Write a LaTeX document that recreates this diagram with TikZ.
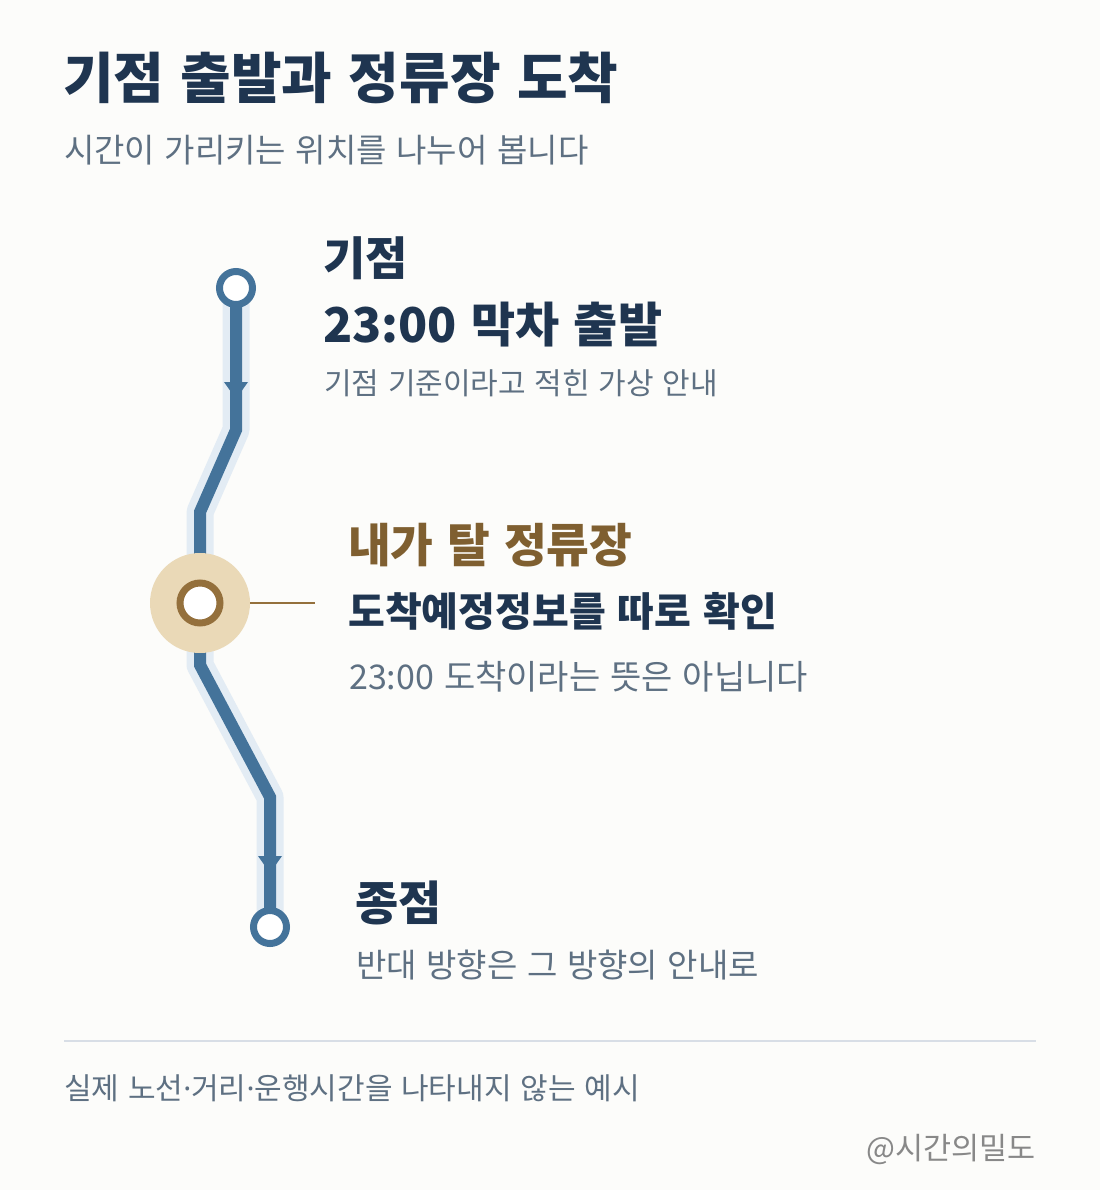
\documentclass[tikz,border=0pt]{standalone}
\usepackage{fontspec}
\setmainfont{Noto Sans CJK KR}[WordSpace=1.3]
\newfontfamily\latinfont{Noto Sans}
\newcommand{\mdot}{{\latinfont ·}}
\definecolor{bg}{HTML}{FCFCFA}
\definecolor{navy}{HTML}{1F3550}
\definecolor{gray1}{HTML}{5E7082}
\definecolor{lineblue}{HTML}{44739A}
\definecolor{halo}{HTML}{E3ECF4}
\definecolor{beige}{HTML}{EAD9B7}
\definecolor{brown}{HTML}{94703C}
\definecolor{browntxt}{HTML}{7F5F30}
\definecolor{sep}{HTML}{D8DEE6}
\definecolor{credit}{HTML}{888888}
\tikzset{
  txt/.style={anchor=west, inner sep=0pt},
  stopring/.style={draw=lineblue, line width=7pt, fill=white, circle, minimum size=33pt, inner sep=0pt},
}
\begin{document}
\begin{tikzpicture}[x=1pt,y=-1pt]
\fill[bg] (0,0) rectangle (1100,1190);
\useasboundingbox (0,0) rectangle (1100,1190);
% texts
\node[txt, font=\bfseries\fontsize{55}{60}\selectfont, text=navy] (title) at (63,78) {기점 출발과 정류장 도착};
\node[txt, font=\fontsize{33}{36}\selectfont, text=gray1] (sub) at (64,150) {시간이 가리키는 위치를 나누어 봅니다};
\node[txt, font=\bfseries\fontsize{46}{50}\selectfont, text=navy] (t1a) at (323,258) {기점};
\node[txt, font=\bfseries\fontsize{48}{52}\selectfont, text=navy] (t1b) at (323,325) {23:00 막차 출발};
\node[txt, font=\fontsize{30}{34}\selectfont, text=gray1] (t1c) at (324,383) {기점 기준이라고 적힌 가상 안내};
\node[txt, font=\bfseries\fontsize{46.5}{50}\selectfont, text=browntxt] (t2a) at (348,545) {내가 탈 정류장};
\node[txt, font=\bfseries\fontsize{40}{44}\selectfont, text=navy] (t2b) at (348,611) {도착예정정보를 따로 확인};
\node[txt, font=\fontsize{34}{38}\selectfont, text=gray1] (t2c) at (349,677) {23:00 도착이라는 뜻은 아닙니다};
\node[txt, font=\bfseries\fontsize{47}{50}\selectfont, text=navy] (t3a) at (355,903) {종점};
\node[txt, font=\fontsize{33}{36}\selectfont, text=gray1] (t3b) at (356,965) {반대 방향은 그 방향의 안내로};
\node[txt, font=\fontsize{30}{34}\selectfont, text=gray1] (note) at (64,1088) {실제 노선\mdot 거리\mdot 운행시간을 나타내지 않는 예시};
\node[anchor=east, inner sep=0pt, font=\fontsize{30.5}{34}\selectfont, text=credit] (cred) at (1036,1150) {@시간의밀도};
% separator
\coordinate (sepL) at (64,1041);
\coordinate (sepR) at (1036,1041);
\draw[sep, line width=2pt] (sepL) -- (sepR);
% route coordinates
\coordinate (s1) at (236,288);
\coordinate (b1) at (236,430);
\coordinate (b2) at (200,512);
\coordinate (s2) at (200,603);
\coordinate (b3) at (200,665);
\coordinate (b4) at (270,797);
\coordinate (s3) at (270,927);
% halo and line
\draw[halo, line width=27pt, line join=round] (s1) -- (b1) -- (b2) -- (s2) -- (b3) -- (b4) -- (s3);
\draw[lineblue, line width=12pt, line join=miter] (s1) -- (b1) -- (b2) -- (s2) -- (b3) -- (b4) -- (s3);
% arrowheads
\fill[lineblue] (224,382) -- (248,382) -- (236,399) -- cycle;
\fill[lineblue] (258,856) -- (282,856) -- (270,873) -- cycle;
% stops
\node[stopring] (n1) at (s1) {};
\node[stopring] (n3) at (s3) {};
\node[circle, fill=beige, minimum size=100pt, inner sep=0pt] (n2) at (s2) {};
\node[circle, draw=brown, line width=7pt, fill=white, minimum size=40pt, inner sep=0pt] (n2r) at (s2) {};
\coordinate (lead) at (315,603);
\draw[brown, line width=2.5pt] (n2.east) -- (lead);
\end{tikzpicture}
\end{document}
